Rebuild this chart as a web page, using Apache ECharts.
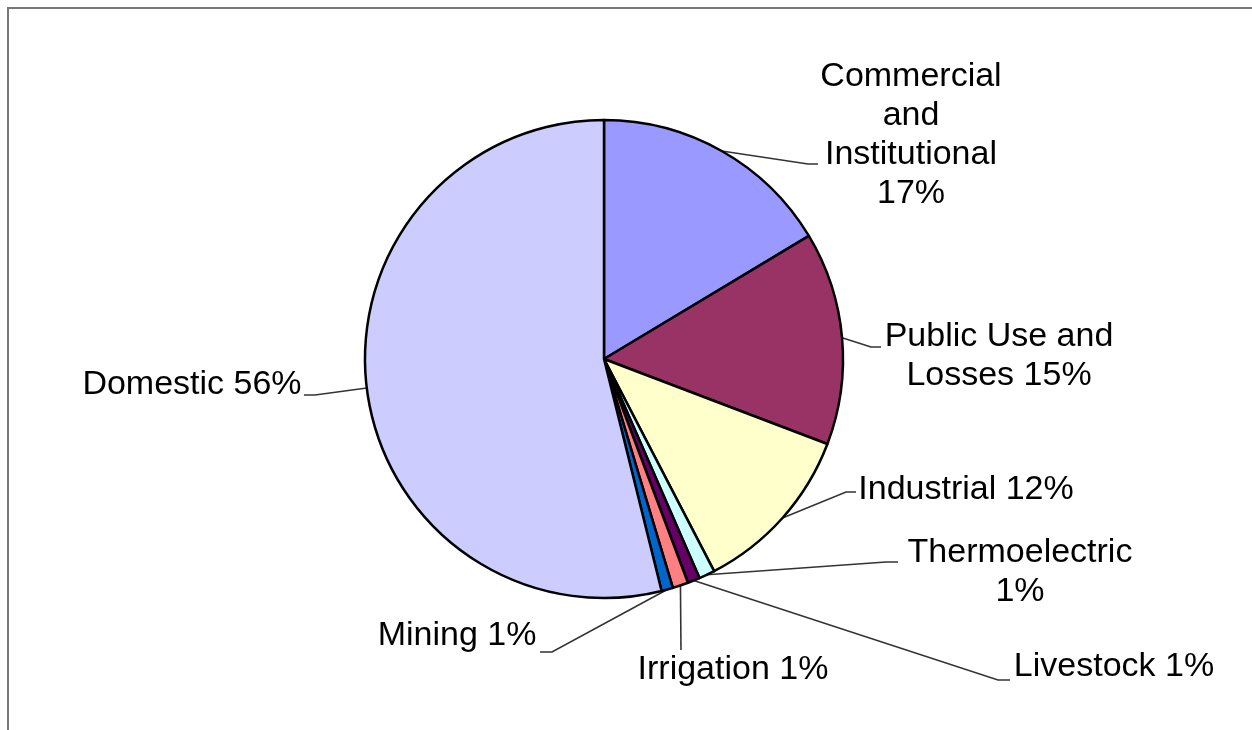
<!DOCTYPE html>
<html><head><meta charset="utf-8">
<script src="https://cdn.jsdelivr.net/npm/echarts@6/dist/echarts.min.js"></script>
<style>html,body{margin:0;padding:0;background:#fff}#c{width:1252px;height:730px}</style>
</head><body><div id="c"></div>
<script>
// ---- data ----
const categories = ['Commercial and Institutional','Public Use and Losses','Industrial','Thermoelectric','Livestock','Irrigation','Mining','Domestic'];
const values = [16.4, 14.4, 11.6, 1.08, 0.83, 1.06, 0.78, 53.9];
const pctLabels = [17, 15, 12, 1, 1, 1, 1, 56];
const labelNames = ['Commercial\nand\nInstitutional','Public Use and\nLosses','Industrial','Thermoelectric','Livestock','Irrigation','Mining','Domestic'];
const labelSeps = ['\n',' ',' ','\n',' ',' ',' ',' '];
const colors = ['#9999FF','#993366','#FFFFCC','#CCFFFF','#660066','#FF8080','#0066CC','#CCCCFF'];

// ---- label placement (layout only): text center, leader elbow, leader end ----
const labelPlace = [
  [911,135, 808,164, 818,164],
  [999,356, 871,347, 881,347],
  [966,490, 846,492, 856,492],
  [1020,572, 886,562, 898,562],
  [1114,667, 998,680, 1010,680],
  [733,670, 681,650, 681,650],
  [457,636, 552,652, 540,652],
  [192,385, 315,395, 304,395]
];

const chart = echarts.init(document.getElementById('c'), null, {renderer:'canvas'});
chart.setOption({
  animation: false,
  backgroundColor: '#fff',
  graphic: [{
    type: 'polyline', silent: true,
    shape: {points: [[8,730],[8,8],[1252,8]]},
    style: {stroke: '#777', lineWidth: 2, fill: null}
  }],
  series: [{
    type: 'pie',
    center: [604, 359],
    radius: 239,
    startAngle: 90,
    clockwise: true,
    avoidLabelOverlap: false,
    data: categories.map((c, i) => ({name: c, value: values[i], itemStyle: {color: colors[i]}})),
    itemStyle: {borderColor: '#000', borderWidth: 2.5},
    label: {
      show: true,
      position: 'outside',
      color: '#000',
      fontFamily: '"Liberation Sans", Arial, sans-serif',
      fontSize: 34,
      lineHeight: 39,
      align: 'center',
      formatter: p => labelNames[p.dataIndex] + labelSeps[p.dataIndex] + pctLabels[p.dataIndex] + '%'
    },
    labelLine: {show: true, length: 10, length2: 10, lineStyle: {color: '#333', width: 1.6}},
    labelLayout: function (params) {
      const lp = labelPlace[params.dataIndex];
      const pts = params.labelLinePoints;
      const p0 = pts ? pts[0] : [lp[2], lp[3]];
      return {
        x: lp[0], y: lp[1], align: 'center', verticalAlign: 'middle',
        labelLinePoints: [p0, [lp[2], lp[3]], [lp[4], lp[5]]]
      };
    },
    emphasis: {disabled: true}
  }]
});
</script></body></html>
